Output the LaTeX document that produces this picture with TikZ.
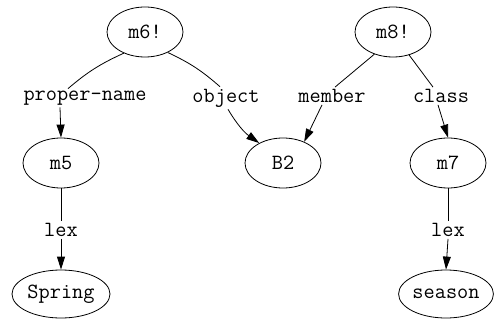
\documentclass[tikz,border=0pt]{standalone}
\usetikzlibrary{shapes.geometric, arrows.meta}
\tikzset{
	state/.style={draw, ellipse, line width=0.8pt, minimum width=76pt, minimum height=50pt, inner sep=0pt},
	rel/.style={inner sep=2pt},
	arrow/.style={line width=0.8pt, -{Triangle[length=13pt, width=8pt]}},
	edge/.style={line width=0.8pt},
}

\begin{document}
\begin{tikzpicture}[x=1pt, y=-1pt, font=\ttfamily\fontsize{21.7}{23}\selectfont]
		\useasboundingbox (0,0) rectangle (494,320);

% Propositions
		\node[state] (m6) at (145,32) {m6!};
		\node[state] (m8) at (393,32) {m8!};

% Base and molecular nodes
		\node[state] (m5) at (61,163) {m5};
		\node[state] (B2) at (283,163) {B2};
		\node[state] (m7) at (448,163) {m7};
		\node[state, minimum width=98pt, minimum height=48pt] (spring) at (61,294) {Spring};
		\node[state, minimum width=94pt, minimum height=48pt] (season) at (446,294) {season};

% Arc labels
		\node[rel] (pn) at (85,98) {proper-name};
		\node[rel] (ob) at (226,98) {object};
		\node[rel] (me) at (332,96) {member};
		\node[rel] (cl) at (441,96) {class};
		\node[rel] (lx1) at (61,230) {lex};
		\node[rel] (lx2) at (448,230) {lex};

		\draw[edge] (m6.225) to[bend right=8] ([xshift=-17pt]pn.north);
		\draw[arrow] ([xshift=-25pt]pn.south) -- (m5.north);
		\draw[edge] (m6.-42) to[bend left=8] ([xshift=-6pt]ob.north);
		\draw[arrow] ([xshift=2pt]ob.south) to[bend right=12] (B2.140);
		\draw[edge] (m8.230) -- ([xshift=3pt]me.north);
		\draw[arrow] ([xshift=-10pt]me.south) -- (B2.45);
		\draw[edge] (m8.-55) -- ([xshift=-8pt]cl.north);
		\draw[arrow] ([xshift=-3pt]cl.south) -- (m7.north);
		\draw[edge] (m5.south) -- (lx1.north);
		\draw[arrow] (lx1.south) -- (spring.north);
		\draw[edge] (m7.south) -- (lx2.north);
		\draw[arrow] (lx2.south) -- (season.north);
	\end{tikzpicture}
\end{document}
